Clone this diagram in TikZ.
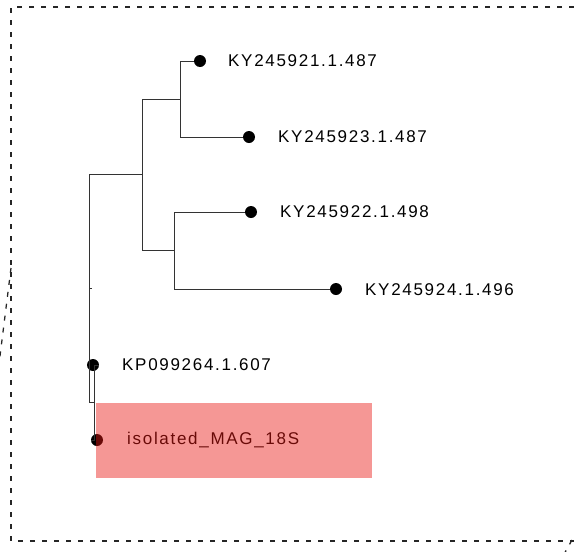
\documentclass[tikz,border=0pt]{standalone}
\usepackage{fontspec}
\setmainfont{Liberation Sans}[LetterSpace=10]
\definecolor{hlred}{RGB}{233,24,19}
\begin{document}
\begin{tikzpicture}[x=1pt,y=-1pt,
  branch/.style={draw=black!80,line width=0.9pt},
  tipdot/.style={circle,fill=black,inner sep=0pt,minimum size=12pt},
  tiplabel/.style={anchor=west,inner sep=0pt,font=\fontsize{17}{20}\selectfont},
  frame/.style={draw=black!85,line width=1.3pt,dash pattern=on 5pt off 7pt},
  highlight/.style={fill=hlred,fill opacity=0.45,draw=none}]
\useasboundingbox (0,0) rectangle (574,552);
\begin{scope}
\clip (0,0) rectangle (574,552);
% dotted frame around the tree
\draw[frame] (574,7) -- (11,7) -- (11,541) -- (574,541);
\draw[frame] (11,268) -- (-3,380);
\draw[frame] (572,540) -- (563,556);
\end{scope}
% tip nodes
\node[tipdot] (t1) at (200,61) {};
\node[tipdot] (t2) at (249,137) {};
\node[tipdot] (t3) at (251,212) {};
\node[tipdot] (t4) at (336,289) {};
\node[tipdot] (t5) at (93,365) {};
\node[tipdot] (t6) at (97,440) {};
% internal nodes
\coordinate (n1) at (180,99);
\coordinate (n2) at (174,250);
\coordinate (n3) at (142,174);
\coordinate (n4) at (94,402);
\coordinate (root) at (89,288);
% branches
\draw[branch] (n1) |- (t1);
\draw[branch] (n1) |- (t2);
\draw[branch] (n2) |- (t3);
\draw[branch] (n2) |- (t4);
\draw[branch] (n3) |- (n1);
\draw[branch] (n3) |- (n2);
\draw[branch] (root) |- (n3);
\draw[branch] (root) |- (n4);
\draw[branch] (n4) |- (t5);
\draw[branch] (n4) |- (t6);
\draw[branch] (root) -- ++(3,0);
% labels
\node[tiplabel] (l1) at (228,61) {KY245921.1.487};
\node[tiplabel] (l2) at (278,137) {KY245923.1.487};
\node[tiplabel] (l3) at (280,212) {KY245922.1.498};
\node[tiplabel] (l4) at (365,290) {KY245924.1.496};
\node[tiplabel] (l5) at (122,365) {KP099264.1.607};
\node[tiplabel] (l6) at (127,440) {isolated\_MAG\_18S};
% highlighted sample
\fill[highlight] (96,403) rectangle (372,478);
\end{tikzpicture}
\end{document}
